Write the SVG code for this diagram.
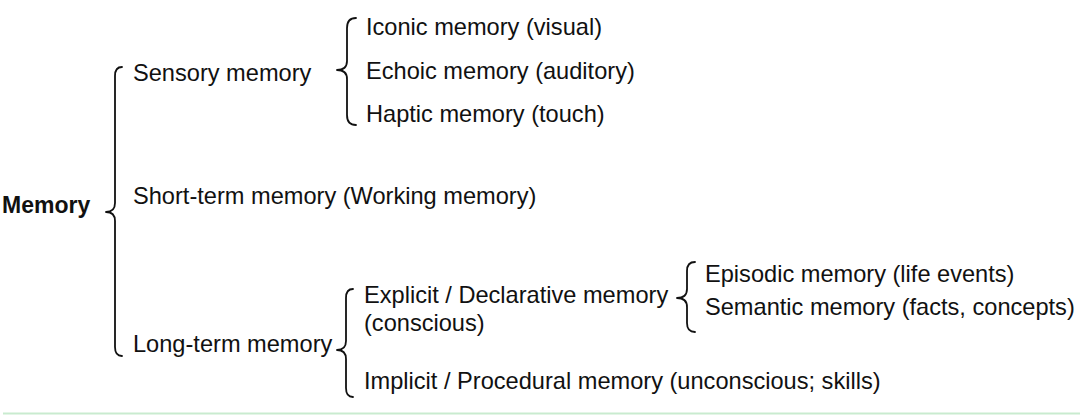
<svg xmlns="http://www.w3.org/2000/svg" width="1080" height="415" viewBox="0 0 1080 415">
<style>
text{font-family:"Liberation Sans",Arial,sans-serif;font-size:23.6px;fill:#111}
.b{font-weight:bold;font-size:23px}
.br{fill:none;stroke:#111;stroke-width:1.8;stroke-linecap:round;stroke-linejoin:round}
</style>
<rect width="1080" height="415" fill="#fff"/>
<g id="connectors">
<path class="br" d="M122,67 Q115,67 115,76 L115,203 Q115,212 106,212 Q115,212 115,221 L115,347 Q115,356 122,356"/>
<path class="br" d="M356,18 Q347,18 347,28 L347,61 Q347,70 337,70 Q347,70 347,79 L347,115 Q347,125 356,125"/>
<path class="br" d="M353,289 Q346,289 346,298 L346,341 Q346,350 337,350 Q346,350 346,359 L346,388 Q346,397 353,397"/>
<path class="br" d="M695,262 Q687,262 687,271 L687,289 Q687,298 677,298 Q687,298 687,307 L687,323 Q687,332 695,332"/>
</g>
<g id="memory"><text class="b" x="2" y="213">Memory</text></g>
<g id="sensory"><text x="133" y="81">Sensory memory</text></g>
<g id="iconic"><text x="366" y="35">Iconic memory (visual)</text></g>
<g id="echoic"><text x="366" y="79">Echoic memory (auditory)</text></g>
<g id="haptic"><text x="366" y="122">Haptic memory (touch)</text></g>
<g id="short-term"><text x="133" y="204">Short-term memory (Working memory)</text></g>
<g id="long-term"><text x="133" y="352">Long-term memory</text></g>
<g id="explicit"><text x="364" y="303">Explicit / Declarative memory</text><text x="364" y="331">(conscious)</text></g>
<g id="episodic"><text x="705" y="282">Episodic memory (life events)</text></g>
<g id="semantic"><text x="705" y="315">Semantic memory (facts, concepts)</text></g>
<g id="implicit"><text x="364" y="389">Implicit / Procedural memory (unconscious; skills)</text></g>
<line x1="3" y1="413.5" x2="1080" y2="413.5" stroke="#c9ebcf" stroke-width="2"/>
</svg>
